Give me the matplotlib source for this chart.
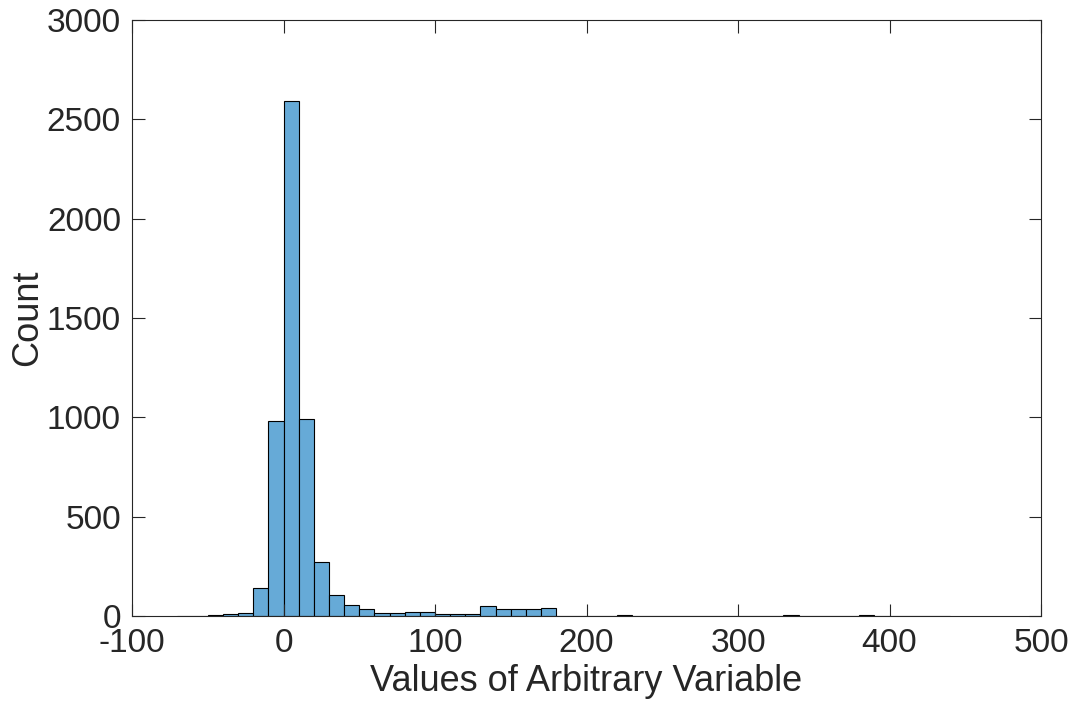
import numpy as np
import matplotlib
matplotlib.use('Agg')
import matplotlib.pyplot as plt

# histogram bins (width 10) and counts
bin_edges = np.arange(-70, 450, 10)
counts = [1, 1, 5, 8, 17, 140, 980, 2590, 993, 272, 107, 53, 36, 17, 13, 18,
          18, 8, 12, 8, 49, 34, 33, 34, 40, 1, 1, 0, 1, 3, 2, 1, 0, 0, 2, 0,
          0, 0, 0, 1, 5, 1, 0, 0, 1, 3, 0, 0, 0, 1, 1]

tick_x = [-100, 0, 100, 200, 300, 400, 500]
tick_y = [0, 500, 1000, 1500, 2000, 2500, 3000]
xlabel = 'Values of Arbitrary Variable'
ylabel = 'Count'

plt.rcParams['font.family'] = ['Liberation Sans', 'DejaVu Sans']
plt.rcParams['axes.unicode_minus'] = False
dark = '#262626'

fig = plt.figure(figsize=(10.73, 7.08), dpi=100)
ax = fig.add_axes([132/1073, 1 - 616/708, (1041-132)/1073, (616-20)/708])

ax.bar(bin_edges[:-1], counts, width=10, align='edge',
       color='#66aad7', edgecolor='black', linewidth=0.8)

ax.set_xlim(-100, 500)
ax.set_ylim(0, 3000)
ax.set_xticks(tick_x)
ax.set_yticks(tick_y)
ax.tick_params(direction='in', length=9, width=0.8, top=True, right=True,
               labelsize=24, colors=dark)
ax.tick_params(axis='x', pad=9)
ax.tick_params(axis='y', pad=8)
for s in ax.spines.values():
    s.set_color(dark)
    s.set_linewidth(0.8)
ax.set_xlabel(xlabel, fontsize=26, color=dark, labelpad=3)
ax.set_ylabel(ylabel, fontsize=26, color=dark, labelpad=1)

fig.savefig('out.png', dpi=100)
